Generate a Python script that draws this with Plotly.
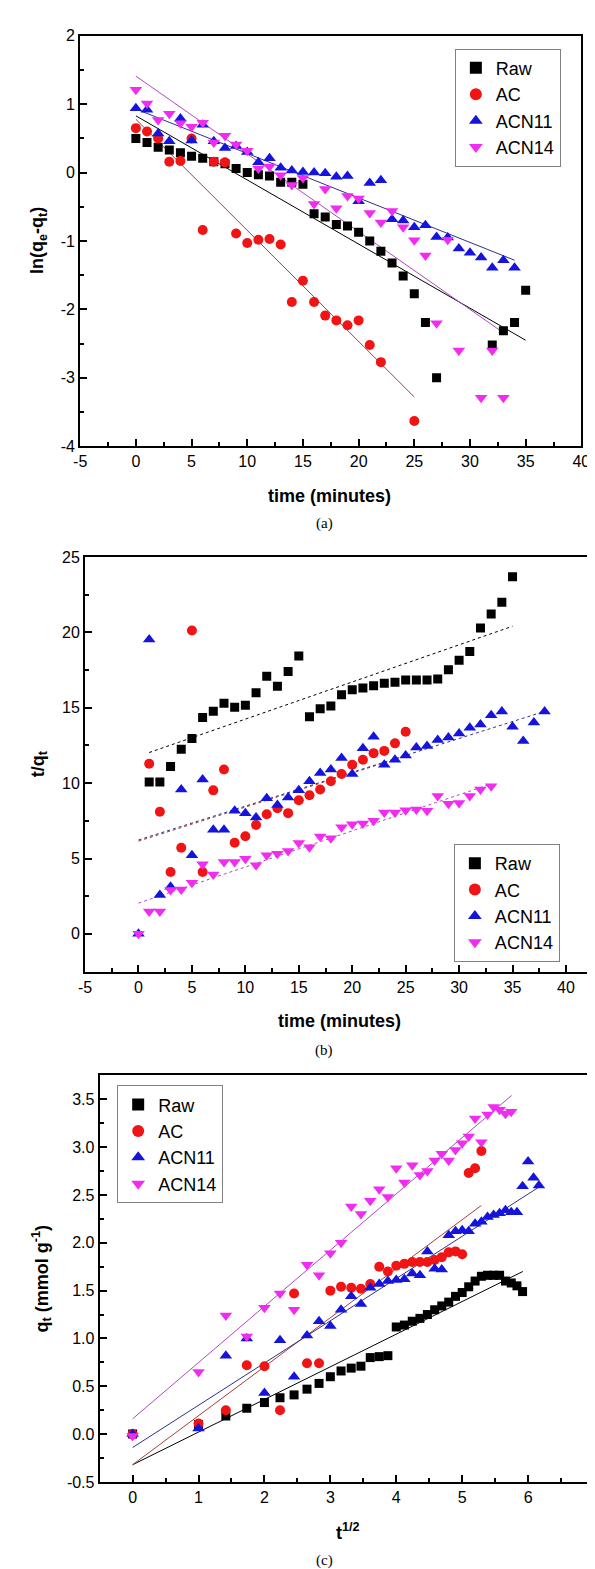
import numpy as np
import plotly.graph_objects as go

# ---------------- (a) pseudo-first-order: ln(qe-qt) vs time ----------------
t_a_raw = list(range(0, 28)) + [32, 33, 34, 35]
raw_a = [0.50, 0.44, 0.37, 0.33, 0.29, 0.24, 0.21, 0.16, 0.13, 0.06, 0.00, -0.03, -0.05, -0.14,
         -0.14, -0.17, -0.60, -0.65, -0.76, -0.78, -0.87, -1.00, -1.15, -1.32, -1.51, -1.77,
         -2.19, -3.00, -2.52, -2.31, -2.19, -1.72]
t_a_ac = list(range(0, 23)) + [25]
ac_a = [0.65, 0.60, 0.50, 0.16, 0.17, 0.50, -0.84, 0.16, 0.15, -0.89, -1.03, -0.98, -0.97,
        -1.05, -1.89, -1.58, -1.89, -2.09, -2.16, -2.23, -2.16, -2.52, -2.77, -3.63]
t_a_n11 = list(range(0, 35))
n11_a = [0.94, 0.92, 0.57, 0.46, 0.79, 0.47, 0.70, 0.46, 0.36, 0.39, 0.30, 0.15, 0.21, 0.07,
         0.03, 0.01, 0.00, -0.01, -0.06, -0.05, -0.42, -0.15, -0.11, -0.68, -0.70, -0.80,
         -0.77, -0.94, -0.95, -1.11, -1.17, -1.24, -1.39, -1.28, -1.39]
t_a_n14 = list(range(0, 30)) + [31, 32, 33]
n14_a = [1.21, 1.01, 0.77, 0.86, 0.72, 0.67, 0.73, 0.44, 0.54, 0.41, 0.32, 0.06, 0.09, -0.04,
         -0.18, -0.08, -0.46, -0.24, -0.52, -0.34, -0.38, -0.59, -0.73, -0.56, -0.80, -0.99,
         -1.21, -2.20, -0.98, -2.60, -3.29, -2.60, -3.29]
# fitted lines (end points)
fit_a_x = {"Raw": [0, 35], "AC": [0, 25], "ACN11": [0, 34], "ACN14": [0, 33]}
fit_a_y = {"Raw": [0.83, -2.45], "AC": [0.78, -3.28], "ACN11": [0.93, -1.28], "ACN14": [1.41, -2.34]}

# ---------------- (b) pseudo-second-order: t/qt vs time ----------------
t_b_raw = list(range(1, 36))
raw_b = [10.07, 10.07, 11.1, 12.25, 12.97, 14.35, 14.77, 15.3, 15.03, 15.16, 15.99, 17.09,
         16.43, 17.41, 18.44, 14.4, 14.94, 15.12, 15.86, 16.19, 16.32, 16.47, 16.63, 16.69,
         16.84, 16.84, 16.84, 16.91, 17.52, 18.16, 18.73, 20.3, 21.22, 22.0, 23.69]
t_b_ac = list(range(1, 26))
ac_b = [11.29, 8.1, 4.11, 5.71, 20.13, 4.11, 9.52, 10.9, 6.04, 6.48, 7.22, 7.94, 8.33, 8.01,
        8.86, 9.2, 9.58, 10.13, 10.61, 11.22, 11.55, 11.99, 12.14, 12.64, 13.41]
t_b_n11 = list(range(0, 39))
n11_b = [0, 19.53, 2.58, 3.13, 9.58, 5.21, 10.24, 6.91, 6.91, 8.16, 8.01, 7.72, 8.99, 8.55,
         9.04, 9.52, 10.13, 10.68, 10.9, 11.66, 10.61, 12.32, 13.08, 11.22, 11.55, 11.83,
         12.36, 12.47, 12.86, 13.02, 13.3, 13.67, 13.89, 14.5, 14.76, 13.74, 12.8, 14.02, 14.76]
t_b_n14 = list(range(0, 34))
n14_b = [0, 1.49, 1.49, 2.91, 2.95, 3.39, 4.62, 3.94, 4.77, 4.77, 4.99, 4.55, 5.21, 5.32,
         5.49, 6.02, 5.75, 6.46, 6.35, 7.07, 7.28, 7.32, 7.5, 8.05, 8.05, 8.2, 8.25, 8.16,
         9.15, 8.64, 8.68, 9.15, 9.58, 9.8]
fit_b_x = {"Raw": [1, 35], "AC": [0, 25], "ACN11": [0, 38], "ACN14": [0, 33]}
fit_b_y = {"Raw": [12.03, 20.41], "AC": [6.15, 11.8], "ACN11": [6.23, 14.76], "ACN14": [2.04, 9.95]}

# ---------------- (c) intraparticle diffusion: qt vs t^1/2 ----------------
t_c_raw = list(range(0, 36))
raw_c = [0, 0.10, 0.19, 0.27, 0.33, 0.38, 0.41, 0.47, 0.53, 0.60, 0.66, 0.69, 0.71, 0.80,
         0.81, 0.82, 1.12, 1.14, 1.18, 1.21, 1.25, 1.30, 1.34, 1.38, 1.44, 1.48, 1.54, 1.60,
         1.65, 1.66, 1.66, 1.66, 1.60, 1.58, 1.55, 1.49]
t_c_ac = list(range(0, 29))
ac_c = [0, 0.11, 0.25, 0.72, 0.71, 0.25, 1.47, 0.74, 0.74, 1.50, 1.54, 1.53, 1.52, 1.57,
        1.75, 1.70, 1.76, 1.78, 1.80, 1.80, 1.80, 1.82, 1.85, 1.90, 1.91, 1.88, 2.73, 2.78, 2.96]
t_c_n11 = list(range(0, 39))
n11_c = [0, 0.06, 0.82, 1.00, 0.43, 0.98, 0.60, 1.03, 1.18, 1.13, 1.30, 1.44, 1.36, 1.53,
         1.57, 1.60, 1.61, 1.62, 1.68, 1.66, 1.91, 1.73, 1.72, 2.08, 2.12, 2.13, 2.12, 2.20,
         2.22, 2.27, 2.29, 2.31, 2.34, 2.32, 2.32, 2.59, 2.85, 2.68, 2.60]
t_c_n14 = list(range(0, 34))
n14_c = [-0.02, 0.65, 1.24, 1.02, 1.32, 1.47, 1.30, 1.77, 1.66, 1.89, 2.00, 2.38, 2.30, 2.44,
         2.56, 2.48, 2.78, 2.63, 2.81, 2.71, 2.75, 2.86, 2.93, 2.86, 2.97, 3.04, 3.11, 3.30,
         3.05, 3.34, 3.42, 3.39, 3.35, 3.37]
fit_c_x = {"Raw": [0, 5.92], "AC": [0, 5.29], "ACN11": [0, 6.16], "ACN14": [0, 5.75]}
fit_c_y = {"Raw": [-0.32, 1.70], "AC": [-0.32, 2.39], "ACN11": [-0.14, 2.58], "ACN14": [0.16, 3.54]}

# tick values
ticks_a_x = [-5, 0, 5, 10, 15, 20, 25, 30, 35, 40]
ticks_a_y = [-4, -3, -2, -1, 0, 1, 2]
ticks_b_x = [-5, 0, 5, 10, 15, 20, 25, 30, 35, 40]
ticks_b_y = [0, 5, 10, 15, 20, 25]
ticks_c_x = [0, 1, 2, 3, 4, 5, 6, 7]
ticks_c_y = [-0.5, 0.0, 0.5, 1.0, 1.5, 2.0, 2.5, 3.0, 3.5]

series = ["Raw", "AC", "ACN11", "ACN14"]
symbols = {"Raw": "square", "AC": "circle", "ACN11": "triangle-up", "ACN14": "triangle-down"}
sizes = {"Raw": 9, "AC": 10, "ACN11": 11, "ACN14": 11}
colors = {"Raw": "#000000", "AC": "#f01414", "ACN11": "#1414dc", "ACN14": "#f02cf0"}
line_colors = {"Raw": "#000000", "AC": "#a83c3c", "ACN11": "#303088", "ACN14": "#b048c0"}

W, H = 595, 1569
FONT = "Liberation Sans"

fig = go.Figure()

panels = [
    ("x", "y", "legend", {"Raw": (t_a_raw, raw_a), "AC": (t_a_ac, ac_a),
                          "ACN11": (t_a_n11, n11_a), "ACN14": (t_a_n14, n14_a)},
     fit_a_x, fit_a_y, "solid"),
    ("x2", "y2", "legend2", {"Raw": (t_b_raw, raw_b), "AC": (t_b_ac, ac_b),
                             "ACN11": (t_b_n11, n11_b), "ACN14": (t_b_n14, n14_b)},
     fit_b_x, fit_b_y, "dot"),
    ("x3", "y3", "legend3", {"Raw": (np.sqrt(t_c_raw), raw_c), "AC": (np.sqrt(t_c_ac), ac_c),
                             "ACN11": (np.sqrt(t_c_n11), n11_c), "ACN14": (np.sqrt(t_c_n14), n14_c)},
     fit_c_x, fit_c_y, "solid"),
]

for xa, ya, leg, pts, fx, fy, dash in panels:
    for s in series:
        fig.add_trace(go.Scatter(x=fx[s], y=fy[s], mode="lines", xaxis=xa, yaxis=ya,
                                 line=dict(color=line_colors[s], width=1, dash=dash),
                                 showlegend=False, hoverinfo="skip"))
    for s in series:
        x, y = pts[s]
        fig.add_trace(go.Scatter(x=list(x), y=y, mode="markers", name=s, xaxis=xa, yaxis=ya,
                                 legend=leg,
                                 marker=dict(symbol=symbols[s], size=sizes[s], color=colors[s],
                                             line=dict(width=0))))


def px_x(p):
    return p / W


def px_y(p):
    return 1 - p / H


def axis(domain, rng, tickvals, minor, anchor, mirror=True, fmt="{:g}"):
    # plain hyphen for negative labels, like the original figure
    text = [fmt.format(v).replace("\u2212", "-") for v in tickvals]
    return dict(domain=domain, range=rng, tickmode="array", tickvals=tickvals, ticktext=text,
                anchor=anchor, showgrid=False, zeroline=False, showline=True,
                linecolor="black", linewidth=2, mirror=mirror,
                ticks="inside", ticklen=7, tickwidth=2, tickcolor="black",
                tickfont=dict(family=FONT, size=16, color="black"),
                minor=dict(ticks="inside", ticklen=4, tickwidth=1.5, tickcolor="black",
                           tickmode="linear", tick0=0, dtick=minor, showgrid=False))


fig.update_layout(
    width=W, height=H, margin=dict(l=0, r=0, t=0, b=0),
    plot_bgcolor="white", paper_bgcolor="white",
    font=dict(family=FONT, color="black"),
    xaxis=axis([px_x(67), px_x(582)], [-5, 40], ticks_a_x, 2.5, "y"),
    yaxis=axis([px_y(435), px_y(20)], [-4, 2], ticks_a_y, 0.5, "x"),
    xaxis2=axis([px_x(72), px_x(592)], [-5, 42.35], ticks_b_x, 2.5, "y2"),
    yaxis2=axis([px_y(966), px_y(547)], [-2.5, 25], ticks_b_y, 2.5, "x2"),
    xaxis3=axis([px_x(87), 1.0], [-0.5, 7.0], ticks_c_x, 0.5, "y3"),
    yaxis3=axis([px_y(1482), px_y(1071)], [-0.5, 3.75], ticks_c_y, 0.25, "x3",
                mirror=False, fmt="{:.1f}"),
)

leg_style = dict(font=dict(family=FONT, size=18, color="black"), bgcolor="white",
                 bordercolor="#808080", borderwidth=1, xanchor="left", yanchor="top",
                 tracegroupgap=0, itemsizing="constant")
fig.update_layout(
    legend=dict(x=px_x(452), y=px_y(33), **leg_style),
    legend2=dict(x=px_x(451), y=px_y(837), **leg_style),
    legend3=dict(x=px_x(105), y=px_y(1081), **leg_style),
)

title_font = dict(family=FONT, size=18, color="black")
notes = [
    (323, 485, "<b>time (minutes)</b>", 0),
    (333, 1016, "<b>time (minutes)</b>", 0),
    (342, 1532, "<b>t<sup>1/2</sup></b>", 0),
    (24, 227, "<b>ln(q<sub>e</sub>-q<sub>t</sub>)</b>", -90),
    (25, 756, "<b>t/q<sub>t</sub></b>", -90),
    (27, 1277, "<b>q<sub>t</sub> (mmol g<sup>-1</sup>)</b>", -90),
]
for x, y, txt, ang in notes:
    fig.add_annotation(x=px_x(x), y=px_y(y), xref="paper", yref="paper", text=txt,
                       showarrow=False, textangle=ang, font=title_font,
                       xanchor="center", yanchor="middle")

for y, txt in [(513, "(a)"), (1046, "(b)"), (1561, "(c)")]:
    fig.add_annotation(x=px_x(318), y=px_y(y), xref="paper", yref="paper", text=txt,
                       showarrow=False, font=dict(family="Liberation Serif", size=15, color="black"),
                       xanchor="center", yanchor="middle")

fig.write_html("out.html")
